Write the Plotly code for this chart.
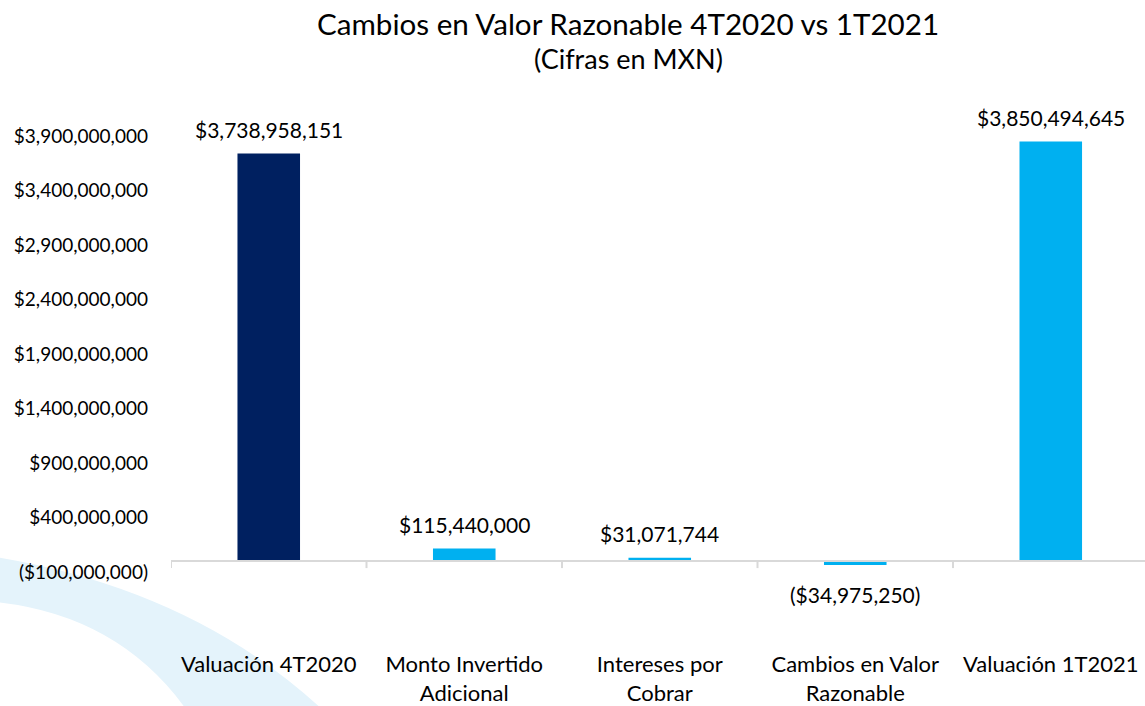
import plotly.graph_objects as go

categories = ["Valuación 4T2020", "Monto Invertido<br>Adicional", "Intereses por<br>Cobrar",
              "Cambios en Valor<br>Razonable", "Valuación 1T2021"]
values = [3738958151, 115440000, 31071744, -34975250, 3850494645]
bar_colors = ["#002060", "#00b0f0", "#00b0f0", "#00b0f0", "#00b0f0"]
ytick_vals = [-100000000, 400000000, 900000000, 1400000000, 1900000000,
              2400000000, 2900000000, 3400000000, 3900000000]
title_text = "Cambios en Valor Razonable 4T2020 vs 1T2021"
subtitle_text = "(Cifras en MXN)"


def money(v):
    s = "${:,.0f}".format(abs(v))
    return "(" + s + ")" if v < 0 else s


ytick_text = [money(v) for v in ytick_vals]
FONT = "Lato, 'Open Sans', sans-serif"

W, H = 1145, 706
L, R, T, B = 171, 0, 136, 134
pw, ph = W - L - R, H - T - B


def px(x):
    return (x - L) / pw


def py(y):
    return (H - B - y) / ph


fig = go.Figure()
fig.add_trace(go.Bar(
    x=list(range(len(categories))), y=values, marker_color=bar_colors,
    width=0.32, marker_line_width=0, hoverinfo="skip",
))

annotations = []
for i, v in enumerate(values):
    annotations.append(dict(
        x=i, y=v, xref="x", yref="y", text=money(v), showarrow=False,
        yanchor="middle", yshift=24 if v >= 0 else -30,
        font=dict(family=FONT, size=21, color="#000000"),
    ))
annotations.append(dict(x=px(628), y=py(23), xref="paper", yref="paper",
                        text=title_text, showarrow=False, xanchor="center", yanchor="middle",
                        font=dict(family=FONT, size=29.6, color="#000000")))
annotations.append(dict(x=px(628), y=py(58), xref="paper", yref="paper",
                        text=subtitle_text, showarrow=False, xanchor="center", yanchor="middle",
                        font=dict(family=FONT, size=27, color="#000000")))

# Decorative arc
p = (f"M {px(-5)} {py(557)} Q {px(195)} {py(590)} {px(325)} {py(712)} "
     f"L {px(188)} {py(712)} Q {px(120)} {py(615)} {px(-5)} {py(602)} Z")
shapes = [dict(type="path", xref="paper", yref="paper", path=p,
               fillcolor="#e4f3fb", line_width=0, layer="below")]
# zero axis line
shapes.append(dict(type="line", xref="paper", yref="y", x0=0, x1=1, y0=0, y1=0,
                   line=dict(color="#d9d9d9", width=2), layer="above"))
# category tick marks
for k in range(len(categories) + 1):
    shapes.append(dict(type="line", xref="x", yref="y", ysizemode="pixel", yanchor=0,
                       x0=k - 0.5, x1=k - 0.5, y0=0, y1=-7,
                       line=dict(color="#d9d9d9", width=2)))

fig.update_layout(
    width=W, height=H,
    margin=dict(l=L, r=R, t=T, b=B, autoexpand=False),
    paper_bgcolor="white", plot_bgcolor="rgba(0,0,0,0)",
    showlegend=False,
    annotations=annotations,
    shapes=shapes,
    xaxis=dict(
        tickvals=list(range(len(categories))), ticktext=categories,
        range=[-0.5, len(categories) - 0.5 - 0.018], showgrid=False, zeroline=False,
        showline=False, ticks="", ticklabelstandoff=77, automargin=False,
        tickfont=dict(family=FONT, size=22, color="#000000"),
    ),
    yaxis=dict(
        range=[-100000000, 3900000000], tickvals=ytick_vals, ticktext=ytick_text,
        showgrid=False, zeroline=False, showline=False, ticks="",
        ticklabelstandoff=22, automargin=False,
        tickfont=dict(family=FONT, size=19, color="#000000"),
    ),
    bargap=0.68,
)

fig.write_html("out.html", config={"displayModeBar": False},
               post_script="document.body.style.margin='0px';")
